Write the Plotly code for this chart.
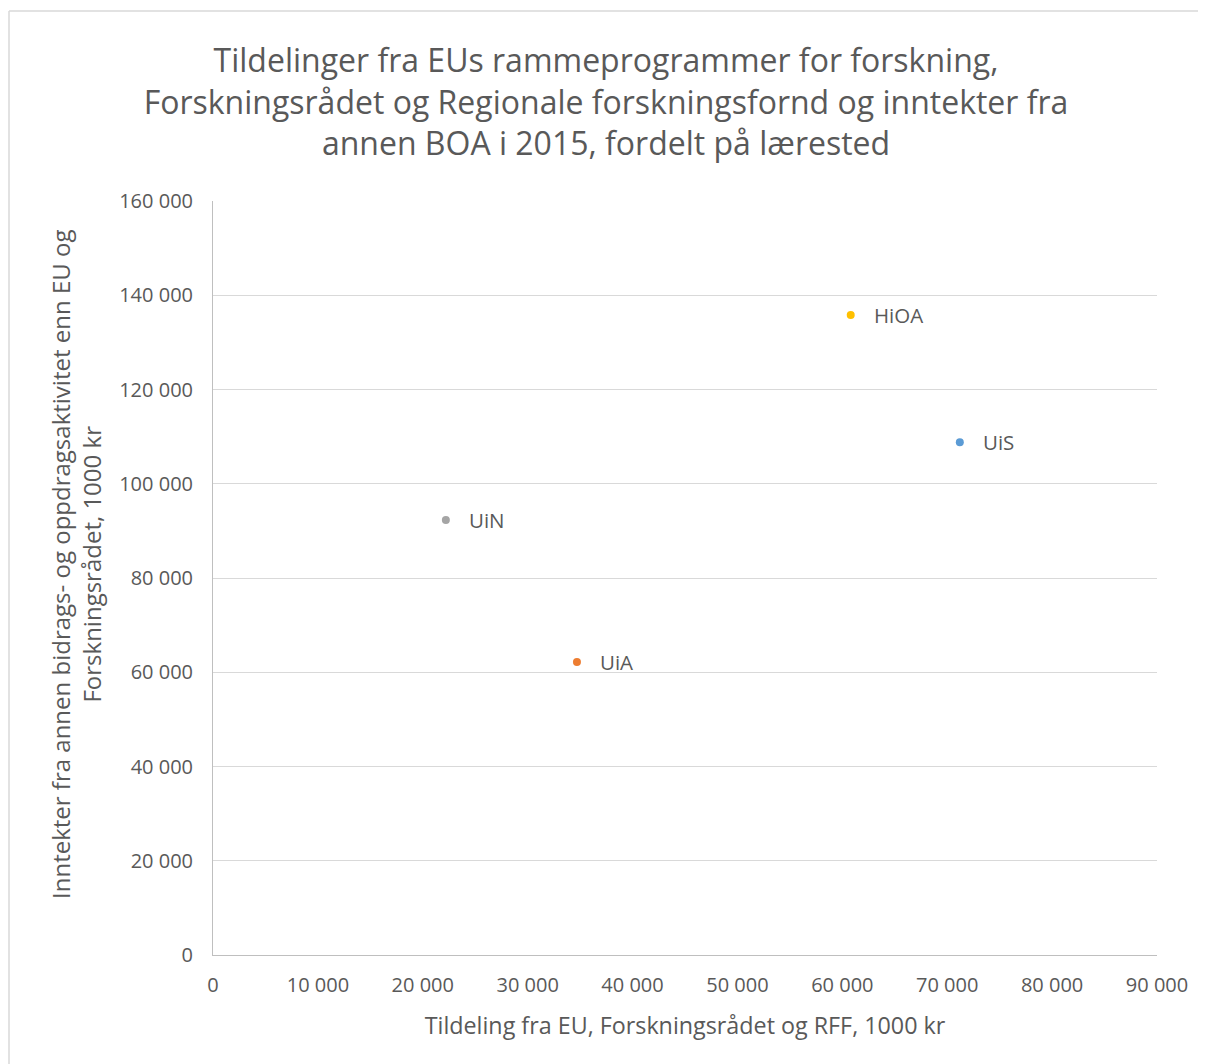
import plotly.graph_objects as go

# Data
institutions = ["UiS", "UiA", "UiN", "HiOA"]
eu_rff_nfr = [71200, 34700, 22200, 60800]          # x, 1000 kr
other_boa = [108800, 62200, 92300, 135800]          # y, 1000 kr
colors = ["#5B9BD5", "#ED7D31", "#A5A5A5", "#FFC000"]

x_ticks = [0, 10000, 20000, 30000, 40000, 50000, 60000, 70000, 80000, 90000]
x_ticktext = ["0", "10 000", "20 000", "30 000", "40 000", "50 000", "60 000", "70 000", "80 000", "90 000"]
y_ticks = [0, 20000, 40000, 60000, 80000, 100000, 120000, 140000, 160000]
y_ticktext = ["0", "20 000", "40 000", "60 000", "80 000", "100 000", "120 000", "140 000", "160 000"]

title_text = ("Tildelinger fra EUs rammeprogrammer for forskning,<br>"
              "Forskningsrådet og Regionale forskningsfornd og inntekter fra<br>"
              "annen BOA i 2015, fordelt på lærested")
x_title = "Tildeling fra EU, Forskningsrådet og RFF, 1000 kr"
y_title = "Inntekter fra annen bidrags- og oppdragsaktivitet enn EU og<br>Forskningsrådet, 1000 kr"

FONT = "Open Sans"
TXT = "#595959"

# page has an 8px body margin, so the figure starts at (8, 8)
OFF = 8
W, H = 1206 - OFF, 1064 - OFF
L, R, T, B = 213 - OFF, 49, 201 - OFF, 109
pw, ph = W - L - R, H - T - B

fig = go.Figure()
for name, xv, yv, c in zip(institutions, eu_rff_nfr, other_boa, colors):
    fig.add_trace(go.Scatter(
        x=[xv], y=[yv], mode="markers", name=name,
        marker=dict(color=c, size=8, line=dict(width=0)),
        showlegend=False, hoverinfo="x+y+name",
    ))
    fig.add_annotation(x=xv, y=yv, text=name, showarrow=False,
                       xanchor="left", yanchor="middle", xshift=21,
                       font=dict(family=FONT, size=20.5, color=TXT))

def px2paperx(px):
    return (px - OFF - L) / pw

def py2papery(py):
    return (OFF + H - B - py) / ph

# y-axis title (slightly above plot centre, as in the original)
fig.add_annotation(xref="paper", yref="paper", x=px2paperx(76), y=py2papery(565),
                   xanchor="center", yanchor="middle", textangle=-90, showarrow=False,
                   text=y_title, font=dict(family=FONT, size=24, color=TXT))

border = dict(color="#D9D9D9", width=1.5)
fig.add_shape(type="line", xref="paper", yref="paper",
              x0=px2paperx(9), x1=px2paperx(1206), y0=py2papery(11), y1=py2papery(11), line=border)
fig.add_shape(type="line", xref="paper", yref="paper",
              x0=px2paperx(9), x1=px2paperx(9), y0=py2papery(11), y1=py2papery(1064), line=border)

fig.update_layout(
    width=W, height=H,
    margin=dict(l=L, r=R, t=T, b=B),
    paper_bgcolor="white", plot_bgcolor="white",
    font=dict(family=FONT, color=TXT, size=20),
    title=dict(text=title_text, x=(606 - OFF) / W, xanchor="center", y=1 - (72 - OFF) / H, yanchor="middle",
               font=dict(family=FONT, size=32, color=TXT)),
    xaxis=dict(range=[0, 90000], tickvals=x_ticks, ticktext=x_ticktext,
               showgrid=False, zeroline=False, showline=True, linecolor="#BFBFBF", linewidth=1,
               ticks="", ticklabelstandoff=12,
               tickfont=dict(family=FONT, size=20, color=TXT),
               title=dict(text=x_title, standoff=20, font=dict(family=FONT, size=23.3, color=TXT))),
    yaxis=dict(range=[0, 160000], tickvals=y_ticks, ticktext=y_ticktext,
               showgrid=True, gridcolor="#D9D9D9", gridwidth=1, zeroline=False,
               showline=True, linecolor="#BFBFBF", linewidth=1,
               ticks="", ticklabelstandoff=15,
               tickfont=dict(family=FONT, size=20, color=TXT)),
)

fig.write_html("out.html")
